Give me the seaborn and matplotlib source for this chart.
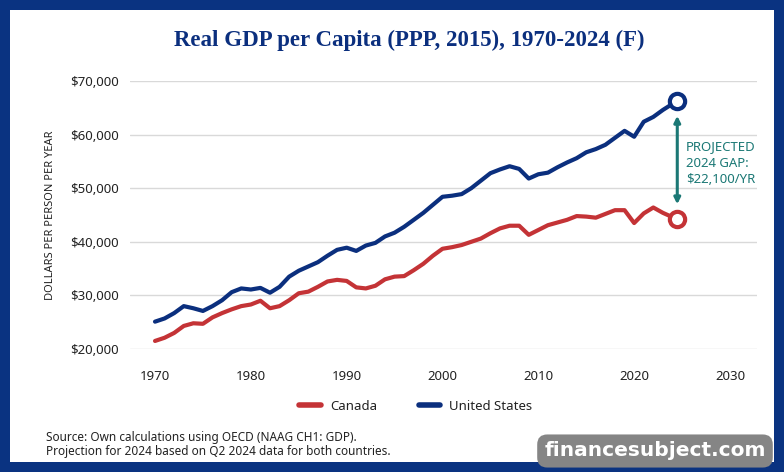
import pandas as pd
import seaborn as sns
import matplotlib
matplotlib.use('Agg')
import matplotlib.pyplot as plt
from matplotlib.patches import Rectangle
from matplotlib.lines import Line2D

# real GDP per capita, thousands of 2015 PPP dollars
years = list(range(1970, 2024))
us_gdp = [
    25.1, 25.7, 26.7, 28.0, 27.6, 27.1, 28.0, 29.1, 30.6, 31.3,
    31.1, 31.4, 30.5, 31.6, 33.5, 34.6, 35.4, 36.2, 37.4, 38.5,
    38.9, 38.3, 39.3, 39.8, 41.0, 41.7, 42.8, 44.1, 45.4, 46.9,
    48.4, 48.6, 48.9, 50.0, 51.4, 52.8, 53.5, 54.1, 53.6, 51.8,
    52.6, 52.9, 53.9, 54.8, 55.6, 56.7, 57.3, 58.1, 59.4, 60.7,
    59.6, 62.4, 63.3, 64.6,
]
canada_gdp = [
    21.5, 22.1, 23.0, 24.3, 24.8, 24.7, 25.9, 26.7, 27.4, 28.0,
    28.3, 29.0, 27.6, 28.0, 29.1, 30.4, 30.7, 31.6, 32.6, 32.9,
    32.7, 31.5, 31.3, 31.8, 33.0, 33.5, 33.6, 34.7, 35.9, 37.4,
    38.7, 39.0, 39.4, 40.0, 40.6, 41.6, 42.5, 43.0, 43.0, 41.3,
    42.2, 43.1, 43.6, 44.1, 44.8, 44.7, 44.5, 45.2, 45.9, 45.9,
    43.5, 45.3, 46.4, 45.4,
]
# 2024 projection (from Q2 2024 data, plotted mid-year)
proj_year = 2024.5
us_proj = 66.3
canada_proj = 44.2

countries = ['Canada', 'United States']
x_ticks = [1970, 1980, 1990, 2000, 2010, 2020, 2030]
y_ticks = [20000, 30000, 40000, 50000, 60000, 70000]
gap_label = 'PROJECTED\n2024 GAP:\n$22,100/YR'

NAVY = '#0b2f7e'
BORDER = '#0a3381'
RED = '#c43336'
TEAL = '#1b7875'
TXT = '#222222'

all_years = years + [proj_year]
df = pd.DataFrame({
    'year': all_years * 2,
    'gdp': [v * 1000 for v in canada_gdp + [canada_proj] + us_gdp + [us_proj]],
    'country': ['Canada'] * len(all_years) + ['United States'] * len(all_years),
})
palette = {'Canada': RED, 'United States': NAVY}

sns.set_style('white')
plt.rcParams['font.family'] = ['Noto Sans', 'DejaVu Sans']

fig = plt.figure(figsize=(7.84, 4.72), dpi=100, facecolor=BORDER)
fig.patches.append(Rectangle((10 / 784, 10 / 472), 764 / 784, 452 / 472,
                             transform=fig.transFigure, facecolor='white',
                             edgecolor='none', zorder=-10))

ax = fig.add_axes([130 / 784, 1 - 349 / 472, 627 / 784, 268 / 472])
ax.set_facecolor('none')

sns.lineplot(data=df, x='year', y='gdp', hue='country', palette=palette,
             hue_order=countries, linewidth=3, legend=False, ax=ax,
             solid_capstyle='round', solid_joinstyle='round')

# hollow circles for the 2024 projection
last = df[df['year'] == proj_year]
for _, r in last.iterrows():
    ax.plot(r['year'], r['gdp'], 'o', ms=11, mfc='white',
            mec=palette[r['country']], mew=3, zorder=5)

# gap arrow
us_last = us_proj * 1000
ca_last = canada_proj * 1000
ax.annotate('', xy=(proj_year, us_last - 2800), xytext=(proj_year, ca_last + 2800),
            arrowprops=dict(arrowstyle='<|-|>', color=TEAL, lw=2.2,
                            mutation_scale=9, shrinkA=0, shrinkB=0))
ax.text(proj_year + 0.9, 54700, gap_label, color=TEAL,
        fontsize=9.5, va='center', ha='left', linespacing=1.3)

ax.set_xlim(1967.39, 2032.82)
ax.set_ylim(20000, 70000)
ax.set_xticks(x_ticks)
ax.set_yticks(y_ticks)
ax.set_yticklabels([f'${v:,.0f}' for v in y_ticks])
ax.tick_params(axis='both', length=0, labelsize=9.5, labelcolor=TXT)
ax.tick_params(axis='x', pad=15)
ax.tick_params(axis='y', pad=8)
ax.grid(axis='y', color='#d9d9d9', lw=1)
ax.set_axisbelow(True)
sns.despine(ax=ax, left=True, bottom=True)
ax.set_xlabel('')
ax.set_ylabel('DOLLARS PER PERSON PER YEAR', fontsize=8, color=TXT, labelpad=10)

fig.text(409 / 784, 1 - 40 / 472, 'Real GDP per Capita (PPP, 2015), 1970-2024 (F)',
         ha='center', va='center', fontsize=16.5, color=NAVY,
         family='Liberation Serif', weight='bold')

handles = [Line2D([0], [0], color=palette[c], lw=4, solid_capstyle='round')
           for c in countries]
fig.legend(handles, countries, loc='center', bbox_to_anchor=(416 / 784, 1 - 406 / 472),
           ncol=2, frameon=False, fontsize=9.5, handlelength=1.6,
           columnspacing=3.2, handletextpad=0.7, labelcolor=TXT)

fig.text(46 / 784, 1 - 437 / 472, 'Source: Own calculations using OECD (NAAG CH1: GDP).',
         fontsize=8.5, color=TXT, va='center')
fig.text(46 / 784, 1 - 451 / 472, 'Projection for 2024 based on Q2 2024 data for both countries.',
         fontsize=8.5, color=TXT, va='center')

fig.text(655 / 784, 1 - 451 / 472, 'financesubject.com', ha='center', va='center',
         fontsize=14.5, weight='bold', color='white', family='DejaVu Sans',
         bbox=dict(boxstyle='round,pad=0.35,rounding_size=0.5', facecolor='#858585',
                   edgecolor='none'))

fig.savefig('out.png', dpi=100, facecolor=fig.get_facecolor())
